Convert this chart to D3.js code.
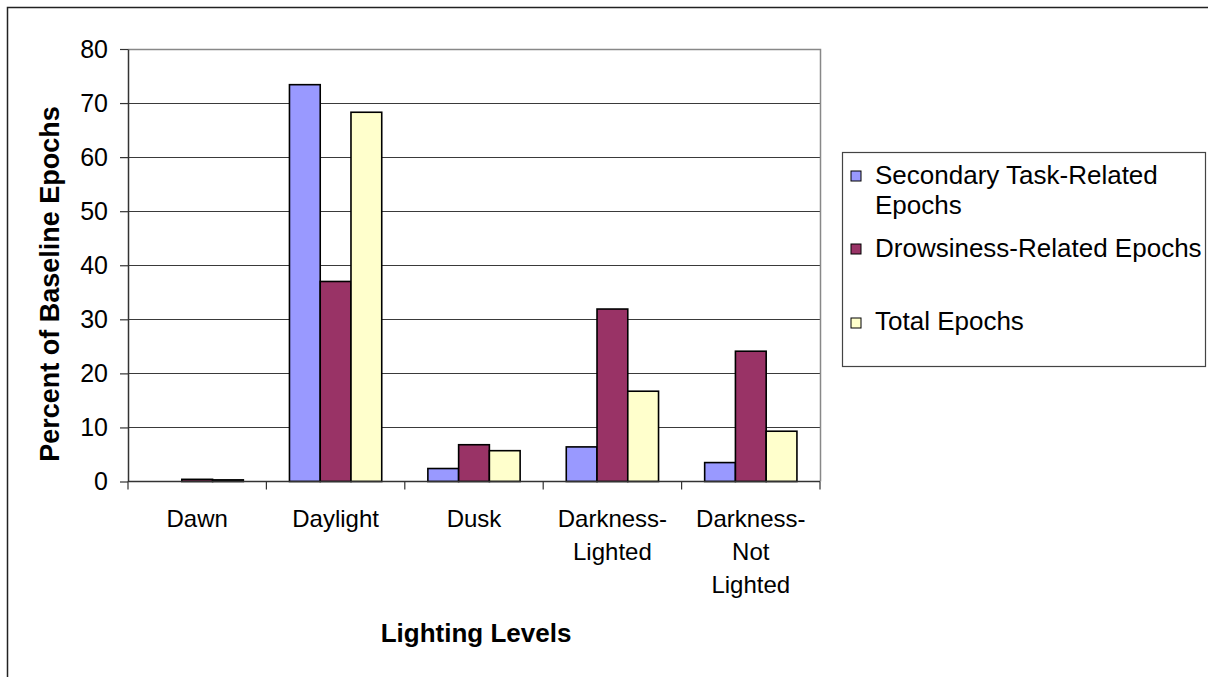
<!DOCTYPE html>
<html><head><meta charset="utf-8">
<script src="https://cdn.jsdelivr.net/npm/d3@7"></script>
<style>body{margin:0;background:#fff}svg{display:block;font-family:"Liberation Sans",Arial,sans-serif}</style>
</head><body><svg id="c" width="1208" height="677"></svg>
<script>
const categories = [["Dawn"],["Daylight"],["Dusk"],["Darkness-","Lighted"],["Darkness-","Not","Lighted"]];
const seriesNames = ["Secondary Task-Related Epochs","Drowsiness-Related Epochs","Total Epochs"];
const secondary = [0, 73.4, 2.4, 6.4, 3.5];
const drowsiness = [0.4, 37.0, 6.8, 31.9, 24.1];
const total = [0.3, 68.3, 5.7, 16.7, 9.3];
const colors = ["#9999FF","#993366","#FFFFCC"];
const yTicks = [0,10,20,30,40,50,60,70,80];
const legendLines = [["Secondary Task-Related","Epochs"],["Drowsiness-Related Epochs"],["Total Epochs"]];

const svg = d3.select("#c");
const L=128, R=820, T=49, B=481.5;
const catKeys = categories.map(c=>c.join(" "));
const x0 = d3.scaleBand().domain(catKeys).range([L,R]).paddingInner(0).paddingOuter(0);
const x1 = d3.scaleBand().domain(seriesNames).range([0,x0.bandwidth()]).paddingInner(0).paddingOuter(0.75);
const y = d3.scaleLinear().domain([0,80]).range([B,T]);
const values = [secondary, drowsiness, total];

// outer border
svg.append("rect").attr("x",7.5).attr("y",7.5).attr("width",1230).attr("height",700)
  .attr("fill","none").attr("stroke","#222").attr("stroke-width",1.5);

// gridlines
svg.append("g").selectAll("line").data(yTicks.filter(t=>t>0&&t<80)).join("line")
  .attr("x1",L).attr("x2",R).attr("y1",d=>Math.round(y(d))+0.5).attr("y2",d=>Math.round(y(d))+0.5)
  .attr("stroke","#3a3a3a").attr("stroke-width",1);
// plot border top/right
svg.append("path").attr("d",`M${L},${Math.round(T)+0.5}H${R+0.5}V${B}`).attr("fill","none").attr("stroke","#888").attr("stroke-width",1.5);

// bars
const g = svg.append("g");
catKeys.forEach((c,i)=>{
  seriesNames.forEach((s,j)=>{
    const v = values[j][i];
    if (v<=0) return;
    g.append("rect").attr("x",x0(c)+x1(s)).attr("y",y(v)).attr("width",x1.bandwidth()).attr("height",B-y(v))
      .attr("fill",colors[j]).attr("stroke","#000").attr("stroke-width",1.6);
  });
});

// y axis
const yAxis = d3.axisLeft(y).tickValues(yTicks).tickSize(8).tickPadding(12).tickSizeOuter(0);
const ya = svg.append("g").attr("transform",`translate(${L},0)`).call(yAxis);
ya.select(".domain").attr("stroke","#333").attr("stroke-width",1.5);
ya.selectAll(".tick line").attr("stroke","#333").attr("stroke-width",1.2);
ya.selectAll(".tick text").attr("font-size",25).attr("font-family","Liberation Sans, Arial").attr("fill","#000");

// x axis
const bounds = catKeys.map(c=>x0(c)).concat([R]);
svg.append("line").attr("x1",L).attr("x2",R).attr("y1",B).attr("y2",B).attr("stroke","#333").attr("stroke-width",1.5);
svg.append("g").selectAll("line").data(bounds).join("line")
  .attr("x1",d=>d).attr("x2",d=>d).attr("y1",B).attr("y2",B+8).attr("stroke","#333").attr("stroke-width",1.2);
const xl = svg.append("g").attr("font-size",24).attr("text-anchor","middle");
categories.forEach((lines,i)=>{
  const cx = x0(catKeys[i])+x0.bandwidth()/2;
  const t = xl.append("text").attr("x",cx).attr("y",527);
  lines.forEach((ln,k)=>t.append("tspan").attr("x",cx).attr("dy",k?33:0).text(ln));
});

// titles
svg.append("text").attr("x",(L+R)/2+2).attr("y",642).attr("text-anchor","middle").attr("font-size",26).attr("font-weight","bold").text("Lighting Levels");
svg.append("text").attr("transform","translate(59,284) rotate(-90)").attr("text-anchor","middle").attr("font-size",27).attr("font-weight","bold").text("Percent of Baseline Epochs");

// legend
svg.append("rect").attr("x",842.5).attr("y",152.5).attr("width",363).attr("height",214).attr("fill","#fff").attr("stroke","#444").attr("stroke-width",1.2);
const swY = [171, 244, 318];
const txtY = [[184,214],[257],[330]];
seriesNames.forEach((s,j)=>{
  svg.append("rect").attr("x",851).attr("y",swY[j]).attr("width",10).attr("height",10).attr("fill",colors[j]).attr("stroke","#000").attr("stroke-width",1);
  legendLines[j].forEach((ln,k)=>svg.append("text").attr("x",875).attr("y",txtY[j][k]).attr("font-size",26).text(ln));
});
</script></body></html>
